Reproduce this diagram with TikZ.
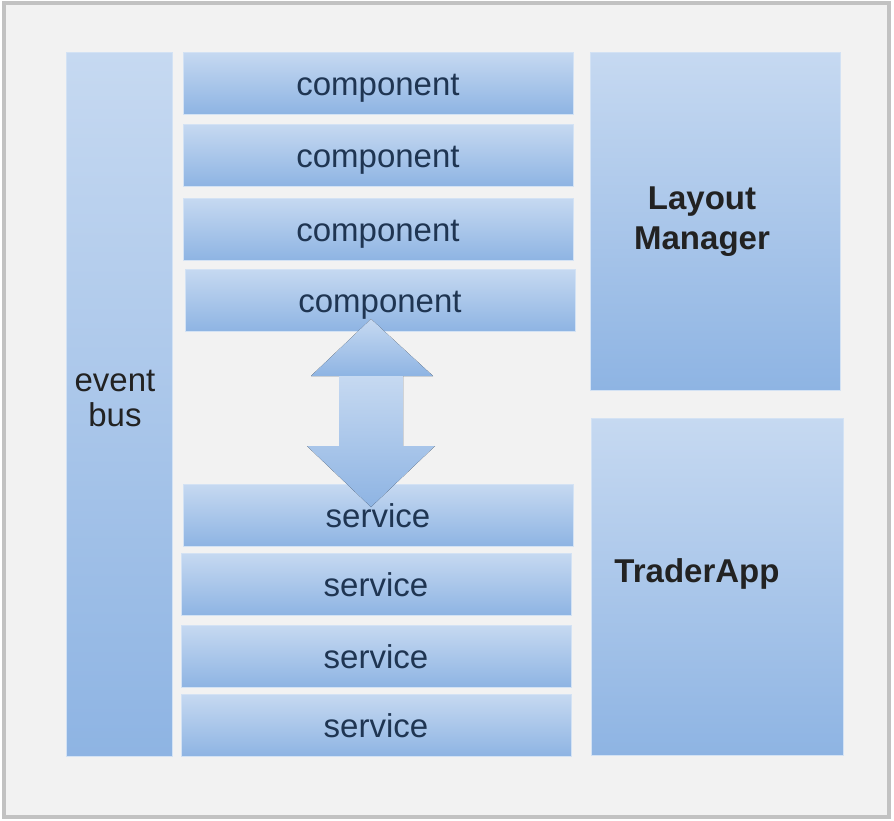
\documentclass[tikz,border=0pt]{standalone}
\usepackage{fontspec}
\setmainfont{Liberation Sans}
\usetikzlibrary{positioning}

\definecolor{boxtop}{HTML}{C6D9F1}
\definecolor{boxbot}{HTML}{8EB4E3}
\definecolor{boxline}{HTML}{D3E2F4}
\definecolor{panel}{HTML}{F2F2F2}
\definecolor{frame}{HTML}{C2C2C2}
\definecolor{navytext}{HTML}{1F3552}
\definecolor{darktext}{HTML}{222222}

\tikzset{
  layer/.style={draw=boxline, line width=0.4pt, top color=boxtop, bottom color=boxbot,
    inner sep=0pt, minimum width=195pt, minimum height=31pt,
    text height=12.6pt, text depth=0pt,
    text=navytext, font=\fontsize{16.5}{19}\selectfont},
  block/.style={draw=boxline, line width=0.4pt, top color=boxtop, bottom color=boxbot,
    inner sep=0pt},
  bigtext/.style={text=darktext, font=\fontsize{16.5}{20}\selectfont\bfseries, align=center},
  bigarrow/.style={top color=boxtop, bottom color=boxbot, draw=none}
}

\begin{document}
\begin{tikzpicture}[x=0.5pt, y=-0.5pt]
			\useasboundingbox (0,0) rectangle (894,820);
			% frame
			\draw[frame, line width=1.6pt, fill=panel] (4,3) rectangle (889,817);

			% event bus
			\node[block, minimum width=53pt, minimum height=352pt] (bus) at (119,404) {};
			\node[text=darktext, font=\fontsize{16.5}{17.5}\selectfont, align=center]
			      (bustext) at ([xshift=-2pt,yshift=3pt]bus.center) {event\\bus};

			% components
			\node[layer] (comp1) at (378,83) {component};
			\node[layer] (comp2) at (378,155) {component};
			\node[layer] (comp3) at (378,229) {component};
			\node[layer] (comp4) at (380,300) {component};

			% services
			\node[layer] (serv1) at (378,515) {service};
			\node[layer] (serv2) at (376,584) {service};
			\node[layer] (serv3) at (376,656) {service};
			\node[layer] (serv4) at (376,725) {service};

			% layout manager and trader app
			\node[block, minimum width=125pt, minimum height=169pt] (layout) at (715,221) {};
			\node[bigtext] (layouttext) at ([xshift=-6.5pt,yshift=-0.5pt]layout.center) {Layout\\Manager};
			\node[block, minimum width=126pt, minimum height=168.5pt] (trader) at (717,586.5) {};
			\node[bigtext] (tradertext) at ([xshift=-10pt,yshift=6.5pt]trader.center) {TraderApp};

			% arrow between components and services
			\coordinate (uptip) at (371,319);
			\coordinate (downtip) at (371,507);
			\fill[bigarrow] (uptip) -- (433,376) -- (311,376) -- cycle;
			\fill[bigarrow] (339,376) -- (403,376) -- (403,446) -- (435,446)
			      -- (downtip) -- (307,446) -- (339,446) -- cycle;
		\end{tikzpicture}
\end{document}
